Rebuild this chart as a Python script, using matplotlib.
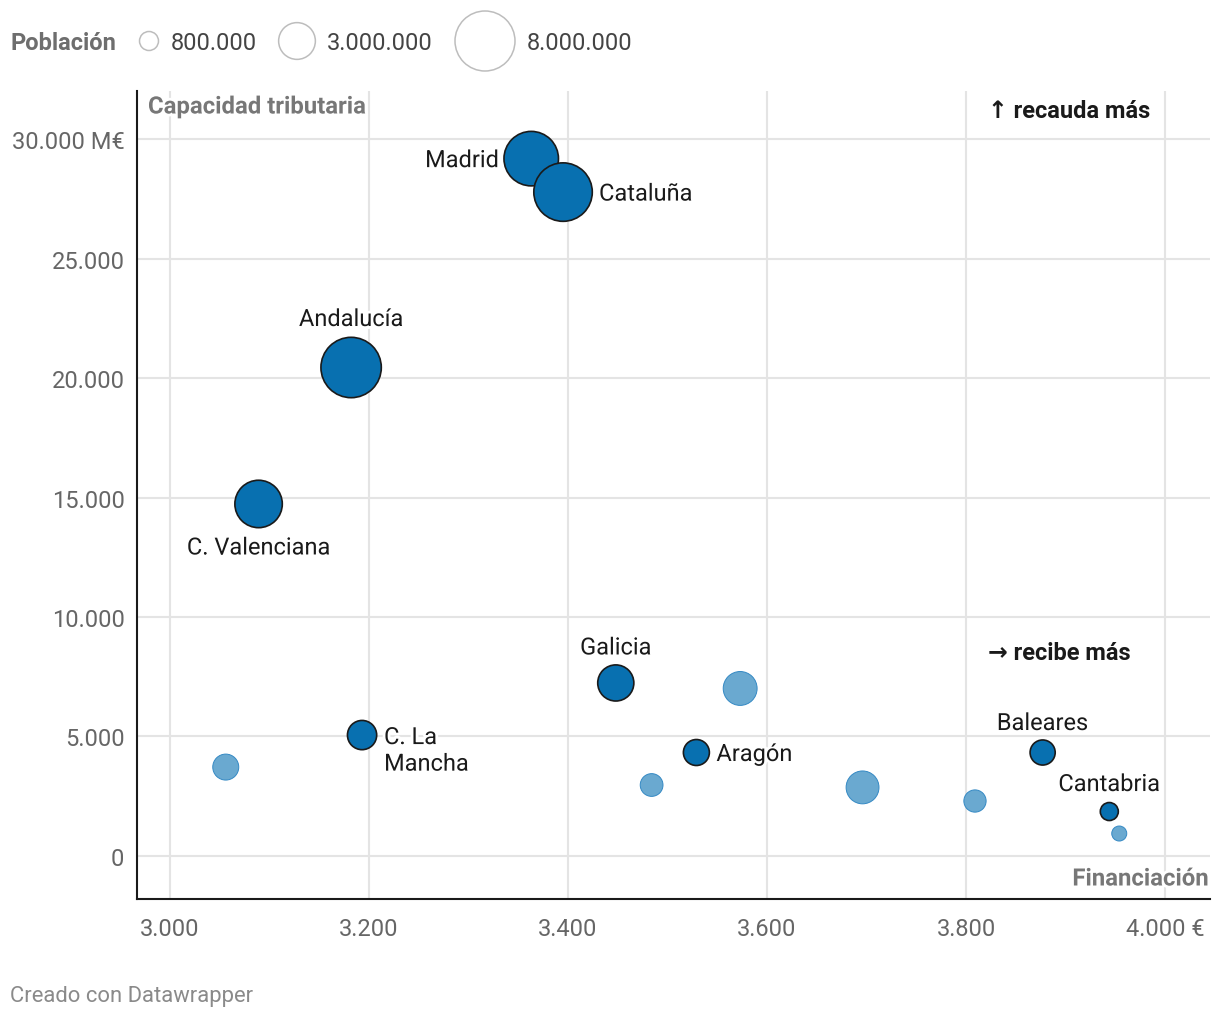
import numpy as np
import matplotlib as mpl
import matplotlib.pyplot as plt
import matplotlib.patheffects as pe

mpl.rcParams.update({
    "font.family": ["Roboto", "DejaVu Sans"],
    "font.size": 17,
})

# ── Data ──
regions = ["Madrid", "Cataluña", "Andalucía", "C. Valenciana", "Galicia",
           "C. La\nMancha", "Aragón", "Baleares", "Cantabria",
           "Murcia", "Castilla y León", "Asturias", "Canarias",
           "Extremadura", "La Rioja"]
financiacion = [3363, 3395, 3182, 3089, 3448, 3193, 3529, 3877, 3944,
                3056, 3573, 3484, 3696, 3809, 3954]
capacidad = [29180, 27780, 20440, 14730, 7240, 5060, 4330, 4330, 1860,
             3720, 7010, 2970, 2870, 2300, 940]
poblacion = [6600000, 7600000, 8100000, 5000000, 2900000, 1900000, 1500000,
             1400000, 720000, 1500000, 2550000, 1150000, 2400000, 1100000,
             500000]
highlight = [True] * 9 + [False] * 6

legend_pops = [800000, 3000000, 8000000]
legend_labels = ["800.000", "3.000.000", "8.000.000"]

xticks = [3000, 3200, 3400, 3600, 3800, 4000]
xtick_labels = ["3.000", "3.200", "3.400", "3.600", "3.800", "4.000 €"]
yticks = [0, 5000, 10000, 15000, 20000, 25000, 30000]
ytick_labels = ["0", "5.000", "10.000", "15.000", "20.000", "25.000", "30.000 M€"]

# label layout: (dx px, dy px, ha)  dy positive = down
label_pos = {
    "Madrid": (-32, 2, "right"),
    "Cataluña": (36, 2, "left"),
    "Andalucía": (0, -48, "center"),
    "C. Valenciana": (0, 44, "center"),
    "Galicia": (0, -35, "center"),
    "C. La\nMancha": (22, -9, "left"),
    "Aragón": (20, 2, "left"),
    "Baleares": (0, -29, "center"),
    "Cantabria": (0, -27, "center"),
}

DARK = "#0870b0"
LIGHT = "#6aa9d0"
LIGHT_EDGE = "#3489c4"
GRID = "#e4e4e4"
PX = 72 / 100  # pixel -> points


def size_of(pop):
    r = 30 * np.sqrt(pop / 8e6)
    return (2 * r * PX) ** 2


W, H = 1220, 1020
fig = plt.figure(figsize=(W / 100, H / 100), dpi=100)
ax = fig.add_axes([137 / W, 1 - 900 / H, (1210 - 137) / W, (900 - 92) / H])

ax.set_xlim(2966.8, 4045.2)
ax.set_ylim(-1800, 32010)
ax.set_xticks(xticks)
ax.set_xticklabels(xtick_labels)
ax.set_yticks(yticks)
ax.set_yticklabels(ytick_labels)
ax.tick_params(length=0, labelcolor="#666666", labelsize=17)
ax.tick_params(axis="x", pad=13)
ax.tick_params(axis="y", pad=9)
ax.grid(True, color=GRID, lw=1.5)
ax.set_axisbelow(True)
for s in ["top", "right"]:
    ax.spines[s].set_visible(False)
for s in ["left", "bottom"]:
    ax.spines[s].set_color("#1a1a1a")
    ax.spines[s].set_linewidth(1.5)

fin = np.array(financiacion)
cap = np.array(capacidad)
pop = np.array(poblacion)
hl = np.array(highlight)

ax.scatter(fin[~hl], cap[~hl], s=size_of(pop[~hl]), c=LIGHT,
           edgecolors=LIGHT_EDGE, linewidths=0.7, zorder=3)
ax.scatter(fin[hl], cap[hl], s=size_of(pop[hl]), c=DARK,
           edgecolors="#1a1a1a", linewidths=1.2, zorder=4)

halo = [pe.withStroke(linewidth=4, foreground="white")]
for name, x, y, h in zip(regions, financiacion, capacidad, highlight):
    if not h:
        continue
    dx, dy, ha = label_pos[name]
    va = "top" if "\n" in name else "center"
    ax.annotate(name, (x, y), xytext=(dx * PX, -dy * PX),
                textcoords="offset points", ha=ha, va=va, fontsize=17,
                color="#1a1a1a", linespacing=1.2, path_effects=halo, zorder=5)

# axis titles & annotations
ax.annotate("Capacidad tributaria", (0, 1), xycoords="axes fraction",
            xytext=(11 * PX, -16 * PX), textcoords="offset points",
            ha="left", va="center", fontsize=17.2, fontweight="bold",
            color="#777777", path_effects=halo)
ax.annotate("Financiación", (1, 0), xycoords="axes fraction",
            xytext=(-2 * PX, 20 * PX), textcoords="offset points",
            ha="right", va="center", fontsize=17.2, fontweight="bold",
            color="#777777", path_effects=halo)
ax.text(3822, 31180, "↑ recauda más", ha="left", va="center", fontsize=17,
        fontweight="bold", color="#1a1a1a")
ax.text(3822, 8500, "→ recibe más", ha="left", va="center", fontsize=17,
        fontweight="bold", color="#1a1a1a")

# ── Legend & footer in pixel space ──
lax = fig.add_axes([0, 0, 1, 1], facecolor="none")
lax.set_xlim(0, W)
lax.set_ylim(H, 0)
lax.axis("off")
lax.text(10, 44, "Población", ha="left", va="center", fontsize=17,
         fontweight="bold", color="#6e6e6e")
leg_centers = [149, 297, 485]
for cx, p, lab in zip(leg_centers, legend_pops, legend_labels):
    r = 30 * np.sqrt(p / 8e6)
    lax.scatter([cx], [42], s=size_of(p), facecolors="none",
                edgecolors="#bdbdbd", linewidths=1.1)
    lax.text(cx + r + 12, 44, lab, ha="left", va="center", fontsize=17,
             color="#444444")

lax.text(10, 997, "Creado con Datawrapper", ha="left", va="center",
         fontsize=15.8, color="#8a8a8a")

fig.savefig("out.png", dpi=100)
